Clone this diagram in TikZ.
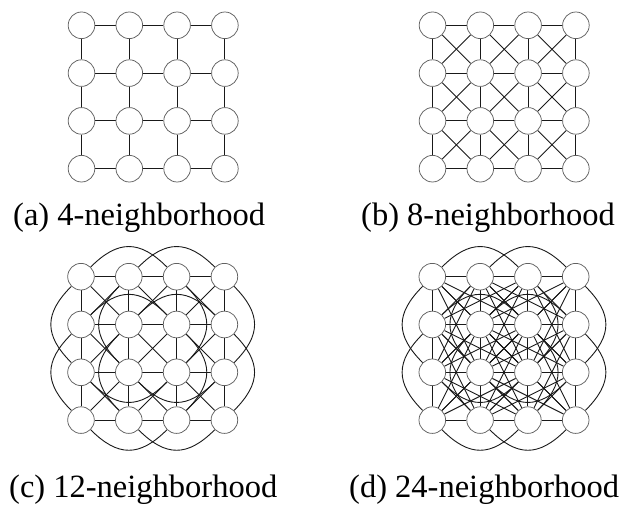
\documentclass[tikz,border=0pt]{standalone}
\usepackage{fontspec}
\setmainfont{Liberation Serif}
\pgfdeclarelayer{background}
\pgfsetlayers{background,main}
\begin{document}
\begin{tikzpicture}[x=1pt,y=1pt,
  vert/.style={circle,draw=black!62,fill=white,line width=0.75pt,minimum size=26.6pt,inner sep=0pt},
  edge/.style={draw=black!90,line width=0.9pt},
  arc2/.style={edge,looseness=1.3},
  captext/.style={anchor=base west,inner sep=0pt,font=\fontsize{32.5}{36}\selectfont}]
\useasboundingbox (0,0) rectangle (619,-505);
% nodes
\foreach \p/\xo/\yo in {a/81.5/25.3, b/432.5/25.3, c/81/276.7, d/432.3/276.7}{
  \foreach \i in {0,...,3}{
    \foreach \j in {0,...,3}{
      \node[vert] (\p\i\j) at ({\xo+47.8*\j},{-(\yo+47.8*\i)}) {};
    }
  }
}
\begin{pgfonlayer}{background}
% 4-neighbourhood in all panels
\foreach \p in {a,b,c,d}{
  \foreach \i in {0,...,3}{
    \foreach \j/\k in {0/1,1/2,2/3}{
      \draw[edge] (\p\i\j) -- (\p\i\k);
      \draw[edge] (\p\j\i) -- (\p\k\i);
    }
  }
}
% diagonals in b, c, d
\foreach \p in {b,c,d}{
  \foreach \i/\ii in {0/1,1/2,2/3}{
    \foreach \j/\jj in {0/1,1/2,2/3}{
      \draw[edge] (\p\i\j) -- (\p\ii\jj);
      \draw[edge] (\p\i\jj) -- (\p\ii\j);
    }
  }
}
% distance-2 arcs in c, d
\foreach \p in {c,d}{
  \foreach \i in {0,1}{
    \draw[arc2] (\p\i0) to[out=45,in=135] (\p\i2);
    \draw[arc2] (\p\i1) to[out=45,in=135] (\p\i3);
  }
  \foreach \i in {2,3}{
    \draw[arc2] (\p\i0) to[out=-45,in=-135] (\p\i2);
    \draw[arc2] (\p\i1) to[out=-45,in=-135] (\p\i3);
  }
  \foreach \j in {0,1}{
    \draw[arc2] (\p0\j) to[out=-135,in=135] (\p2\j);
    \draw[arc2] (\p1\j) to[out=-135,in=135] (\p3\j);
  }
  \foreach \j in {2,3}{
    \draw[arc2] (\p0\j) to[out=-45,in=45] (\p2\j);
    \draw[arc2] (\p1\j) to[out=-45,in=45] (\p3\j);
  }
}
% knight moves and long diagonals in d
\foreach \i/\ii in {0/1,1/2,2/3}{
  \foreach \j/\jj in {0/2,1/3}{
    \draw[edge] (d\i\j) -- (d\ii\jj);
    \draw[edge] (d\i\jj) -- (d\ii\j);
    \draw[edge] (d\j\i) -- (d\jj\ii);
    \draw[edge] (d\jj\i) -- (d\j\ii);
  }
}
\foreach \i/\ii in {0/2,1/3}{
  \foreach \j/\jj in {0/2,1/3}{
    \draw[edge] (d\i\j) -- (d\ii\jj);
    \draw[edge] (d\i\jj) -- (d\ii\j);
  }
}
\end{pgfonlayer}
% captions
\node[captext] (capa) at (13,-226) {(a) 4-neighborhood};
\node[captext] (capb) at (361,-226) {(b) 8-neighborhood};
\node[captext] (capc) at (9,-497) {(c) 12-neighborhood};
\node[captext] (capd) at (349,-497) {(d) 24-neighborhood};
\end{tikzpicture}
\end{document}
